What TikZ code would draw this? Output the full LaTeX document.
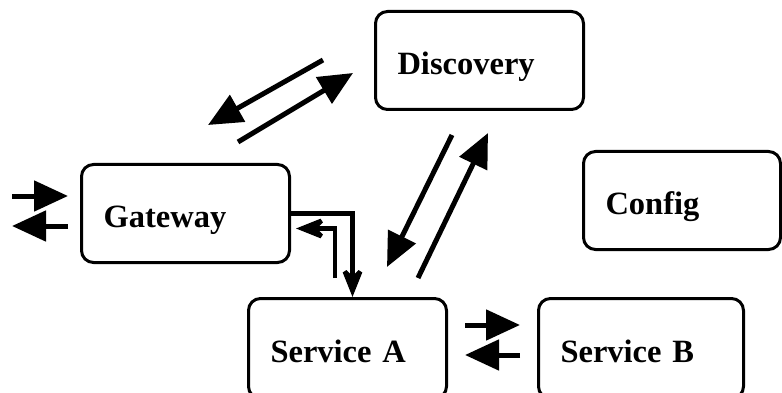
\documentclass[tikz,border=0pt]{standalone}
\usepackage{fontspec}
\setmainfont{Liberation Serif}
\usepackage{tikz}
\usetikzlibrary{positioning}
\usetikzlibrary{calc}
\usetikzlibrary{arrows.meta}

\begin{document}
\begin{tikzpicture}[x=1pt, y=-1pt,
    box/.style={draw, rounded corners=12pt, line width=3pt, anchor=north west,
      inner xsep=22pt, inner ysep=0pt, align=left, minimum height=98pt,
      text height=28pt, text depth=0pt,
      font=\fontsize{32.5}{38}\selectfont\bfseries},
    flow/.style={line width=5pt, -{Triangle[length=34pt, width=30pt]}},
    elbowarrow/.style={line width=4.5pt, miter limit=4, -{Stealth[length=34pt, width=27pt, inset=13pt]}}]
  \useasboundingbox (0,0) rectangle (782,393);
  \clip (0,0) rectangle (782,393);

  \node[box, text width=164pt] (disc) at (374,10) {Discovery};
  \node[box, text width=153pt] (conf) at (582,150) {Config};
  \node[box, text width=164pt] (gw) at (80,163) {Gateway};
  \node[box, text width=154pt, minimum height=100pt] (sa) at (247,297) {Service A};
  \node[box, text width=161pt, minimum height=100pt] (sb) at (537,297) {Service B};

  % free ends of the arrow pairs
  \coordinate (inA) at (12,196);
  \coordinate (inB) at (68,196);
  \coordinate (outA) at (68,226);
  \coordinate (outB) at (12,226);
  \coordinate (dgA) at (323,60);
  \coordinate (dgB) at (208,125);
  \coordinate (gdA) at (238,142);
  \coordinate (gdB) at (353,73);
  \coordinate (dsA) at (452,135);
  \coordinate (dsB) at (387,267);
  \coordinate (sdA) at (418,278);
  \coordinate (sdB) at (488,133);
  \coordinate (abA) at (465,325);
  \coordinate (abB) at (520,325);
  \coordinate (baA) at (520,355);
  \coordinate (baB) at (465,355);
  \coordinate (sgA) at (335,278);

  \draw[flow] (inA) -- (inB);
  \draw[flow] (outA) -- (outB);
  \draw[flow] (dgA) -- (dgB);
  \draw[flow] (gdA) -- (gdB);
  \draw[flow] (dsA) -- (dsB);
  \draw[flow] (sdA) -- (sdB);
  \draw[flow] (abA) -- (abB);
  \draw[flow] (baA) -- (baB);

  \draw[elbowarrow] (gw.east) -| ([xshift=5pt]sa.north);
  \draw[elbowarrow] (sgA) |- ([xshift=5pt, yshift=-15pt]gw.east);
\end{tikzpicture}
\end{document}
